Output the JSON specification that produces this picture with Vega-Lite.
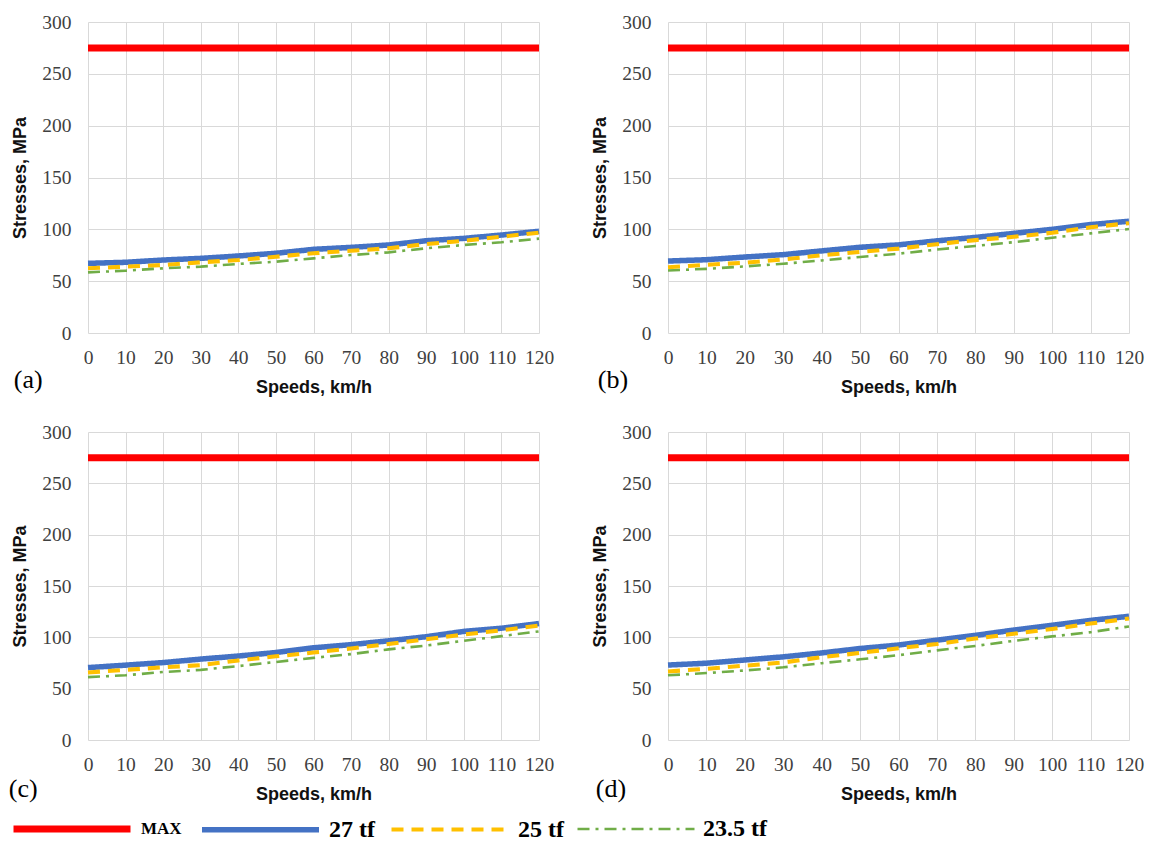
{
  "$schema": "https://vega.github.io/schema/vega-lite/v6.json",
  "background": "white",
  "padding": {"left": 8, "top": 12, "right": 5, "bottom": 5},
  "datasets": {
    "d": [
      {"panel":"a","series":"MAX","speed":0,"stress":275},{"panel":"a","series":"MAX","speed":120,"stress":275},
      {"panel":"a","series":"27 tf","speed":0,"stress":67.2},{"panel":"a","series":"27 tf","speed":10,"stress":68.2},{"panel":"a","series":"27 tf","speed":20,"stress":70.4},{"panel":"a","series":"27 tf","speed":30,"stress":72},{"panel":"a","series":"27 tf","speed":40,"stress":74.3},{"panel":"a","series":"27 tf","speed":50,"stress":76.9},{"panel":"a","series":"27 tf","speed":60,"stress":80.7},{"panel":"a","series":"27 tf","speed":70,"stress":82.6},{"panel":"a","series":"27 tf","speed":80,"stress":84.9},{"panel":"a","series":"27 tf","speed":90,"stress":89},{"panel":"a","series":"27 tf","speed":100,"stress":91.3},{"panel":"a","series":"27 tf","speed":110,"stress":94.5},{"panel":"a","series":"27 tf","speed":120,"stress":98.1},
      {"panel":"a","series":"25 tf","speed":0,"stress":62.4},{"panel":"a","series":"25 tf","speed":10,"stress":64},{"panel":"a","series":"25 tf","speed":20,"stress":65.6},{"panel":"a","series":"25 tf","speed":30,"stress":68.2},{"panel":"a","series":"25 tf","speed":40,"stress":70.4},{"panel":"a","series":"25 tf","speed":50,"stress":73.6},{"panel":"a","series":"25 tf","speed":60,"stress":76.9},{"panel":"a","series":"25 tf","speed":70,"stress":79.4},{"panel":"a","series":"25 tf","speed":80,"stress":81.7},{"panel":"a","series":"25 tf","speed":90,"stress":85.8},{"panel":"a","series":"25 tf","speed":100,"stress":89},{"panel":"a","series":"25 tf","speed":110,"stress":92.9},{"panel":"a","series":"25 tf","speed":120,"stress":96.8},
      {"panel":"a","series":"23.5 tf","speed":0,"stress":58.5},{"panel":"a","series":"23.5 tf","speed":10,"stress":60.1},{"panel":"a","series":"23.5 tf","speed":20,"stress":62.4},{"panel":"a","series":"23.5 tf","speed":30,"stress":64},{"panel":"a","series":"23.5 tf","speed":40,"stress":66.6},{"panel":"a","series":"23.5 tf","speed":50,"stress":68.8},{"panel":"a","series":"23.5 tf","speed":60,"stress":72},{"panel":"a","series":"23.5 tf","speed":70,"stress":75.2},{"panel":"a","series":"23.5 tf","speed":80,"stress":77.8},{"panel":"a","series":"23.5 tf","speed":90,"stress":81.7},{"panel":"a","series":"23.5 tf","speed":100,"stress":84.9},{"panel":"a","series":"23.5 tf","speed":110,"stress":87.5},{"panel":"a","series":"23.5 tf","speed":120,"stress":91},

      {"panel":"b","series":"MAX","speed":0,"stress":275},{"panel":"b","series":"MAX","speed":120,"stress":275},
      {"panel":"b","series":"27 tf","speed":0,"stress":69.4},{"panel":"b","series":"27 tf","speed":10,"stress":70.7},{"panel":"b","series":"27 tf","speed":20,"stress":73.3},{"panel":"b","series":"27 tf","speed":30,"stress":75.6},{"panel":"b","series":"27 tf","speed":40,"stress":79.2},{"panel":"b","series":"27 tf","speed":50,"stress":82.7},{"panel":"b","series":"27 tf","speed":60,"stress":85},{"panel":"b","series":"27 tf","speed":70,"stress":88.9},{"panel":"b","series":"27 tf","speed":80,"stress":92.2},{"panel":"b","series":"27 tf","speed":90,"stress":96.1},{"panel":"b","series":"27 tf","speed":100,"stress":100},{"panel":"b","series":"27 tf","speed":110,"stress":104.6},{"panel":"b","series":"27 tf","speed":120,"stress":107.8},
      {"panel":"b","series":"25 tf","speed":0,"stress":63.5},{"panel":"b","series":"25 tf","speed":10,"stress":65.8},{"panel":"b","series":"25 tf","speed":20,"stress":67.8},{"panel":"b","series":"25 tf","speed":30,"stress":71},{"panel":"b","series":"25 tf","speed":40,"stress":74.9},{"panel":"b","series":"25 tf","speed":50,"stress":78.2},{"panel":"b","series":"25 tf","speed":60,"stress":81.4},{"panel":"b","series":"25 tf","speed":70,"stress":85.7},{"panel":"b","series":"25 tf","speed":80,"stress":89.6},{"panel":"b","series":"25 tf","speed":90,"stress":92.8},{"panel":"b","series":"25 tf","speed":100,"stress":96.7},{"panel":"b","series":"25 tf","speed":110,"stress":102},{"panel":"b","series":"25 tf","speed":120,"stress":105.9},
      {"panel":"b","series":"23.5 tf","speed":0,"stress":60.3},{"panel":"b","series":"23.5 tf","speed":10,"stress":61.9},{"panel":"b","series":"23.5 tf","speed":20,"stress":64.2},{"panel":"b","series":"23.5 tf","speed":30,"stress":66.8},{"panel":"b","series":"23.5 tf","speed":40,"stress":70},{"panel":"b","series":"23.5 tf","speed":50,"stress":73.3},{"panel":"b","series":"23.5 tf","speed":60,"stress":76.5},{"panel":"b","series":"23.5 tf","speed":70,"stress":80.5},{"panel":"b","series":"23.5 tf","speed":80,"stress":84},{"panel":"b","series":"23.5 tf","speed":90,"stress":87.6},{"panel":"b","series":"23.5 tf","speed":100,"stress":91.9},{"panel":"b","series":"23.5 tf","speed":110,"stress":96.1},{"panel":"b","series":"23.5 tf","speed":120,"stress":100.3},

      {"panel":"c","series":"MAX","speed":0,"stress":275},{"panel":"c","series":"MAX","speed":120,"stress":275},
      {"panel":"c","series":"27 tf","speed":0,"stress":70.5},{"panel":"c","series":"27 tf","speed":10,"stress":72.9},{"panel":"c","series":"27 tf","speed":20,"stress":75.4},{"panel":"c","series":"27 tf","speed":30,"stress":78.8},{"panel":"c","series":"27 tf","speed":40,"stress":81.8},{"panel":"c","series":"27 tf","speed":50,"stress":85.2},{"panel":"c","series":"27 tf","speed":60,"stress":89.8},{"panel":"c","series":"27 tf","speed":70,"stress":92.9},{"panel":"c","series":"27 tf","speed":80,"stress":96.6},{"panel":"c","series":"27 tf","speed":90,"stress":100.6},{"panel":"c","series":"27 tf","speed":100,"stress":105.8},{"panel":"c","series":"27 tf","speed":110,"stress":108.9},{"panel":"c","series":"27 tf","speed":120,"stress":113.5},
      {"panel":"c","series":"25 tf","speed":0,"stress":65.8},{"panel":"c","series":"25 tf","speed":10,"stress":68.3},{"panel":"c","series":"25 tf","speed":20,"stress":70.8},{"panel":"c","series":"25 tf","speed":30,"stress":72.9},{"panel":"c","series":"25 tf","speed":40,"stress":77.5},{"panel":"c","series":"25 tf","speed":50,"stress":81.5},{"panel":"c","series":"25 tf","speed":60,"stress":85.2},{"panel":"c","series":"25 tf","speed":70,"stress":89.2},{"panel":"c","series":"25 tf","speed":80,"stress":93.5},{"panel":"c","series":"25 tf","speed":90,"stress":98.2},{"panel":"c","series":"25 tf","speed":100,"stress":102.8},{"panel":"c","series":"25 tf","speed":110,"stress":106.8},{"panel":"c","series":"25 tf","speed":120,"stress":111.4},
      {"panel":"c","series":"23.5 tf","speed":0,"stress":61.2},{"panel":"c","series":"23.5 tf","speed":10,"stress":63.1},{"panel":"c","series":"23.5 tf","speed":20,"stress":66.2},{"panel":"c","series":"23.5 tf","speed":30,"stress":68.3},{"panel":"c","series":"23.5 tf","speed":40,"stress":72},{"panel":"c","series":"23.5 tf","speed":50,"stress":76},{"panel":"c","series":"23.5 tf","speed":60,"stress":80},{"panel":"c","series":"23.5 tf","speed":70,"stress":83.7},{"panel":"c","series":"23.5 tf","speed":80,"stress":88.3},{"panel":"c","series":"23.5 tf","speed":90,"stress":92},{"panel":"c","series":"23.5 tf","speed":100,"stress":96.6},{"panel":"c","series":"23.5 tf","speed":110,"stress":101.2},{"panel":"c","series":"23.5 tf","speed":120,"stress":105.8},

      {"panel":"d","series":"MAX","speed":0,"stress":275},{"panel":"d","series":"MAX","speed":120,"stress":275},
      {"panel":"d","series":"27 tf","speed":0,"stress":73},{"panel":"d","series":"27 tf","speed":10,"stress":74.8},{"panel":"d","series":"27 tf","speed":20,"stress":77.9},{"panel":"d","series":"27 tf","speed":30,"stress":81},{"panel":"d","series":"27 tf","speed":40,"stress":84.8},{"panel":"d","series":"27 tf","speed":50,"stress":89.1},{"panel":"d","series":"27 tf","speed":60,"stress":92.5},{"panel":"d","series":"27 tf","speed":70,"stress":97.2},{"panel":"d","series":"27 tf","speed":80,"stress":101.9},{"panel":"d","series":"27 tf","speed":90,"stress":107.1},{"panel":"d","series":"27 tf","speed":100,"stress":111.8},{"panel":"d","series":"27 tf","speed":110,"stress":116.5},{"panel":"d","series":"27 tf","speed":120,"stress":120.5},
      {"panel":"d","series":"25 tf","speed":0,"stress":66.8},{"panel":"d","series":"25 tf","speed":10,"stress":69.3},{"panel":"d","series":"25 tf","speed":20,"stress":72.4},{"panel":"d","series":"25 tf","speed":30,"stress":75.5},{"panel":"d","series":"25 tf","speed":40,"stress":80.7},{"panel":"d","series":"25 tf","speed":50,"stress":84.8},{"panel":"d","series":"25 tf","speed":60,"stress":89.4},{"panel":"d","series":"25 tf","speed":70,"stress":93.5},{"panel":"d","series":"25 tf","speed":80,"stress":98.8},{"panel":"d","series":"25 tf","speed":90,"stress":103.4},{"panel":"d","series":"25 tf","speed":100,"stress":108.1},{"panel":"d","series":"25 tf","speed":110,"stress":113.4},{"panel":"d","series":"25 tf","speed":120,"stress":118.3},
      {"panel":"d","series":"23.5 tf","speed":0,"stress":63},{"panel":"d","series":"23.5 tf","speed":10,"stress":65.2},{"panel":"d","series":"23.5 tf","speed":20,"stress":67.7},{"panel":"d","series":"23.5 tf","speed":30,"stress":70.8},{"panel":"d","series":"23.5 tf","speed":40,"stress":74.8},{"panel":"d","series":"23.5 tf","speed":50,"stress":78.6},{"panel":"d","series":"23.5 tf","speed":60,"stress":82.6},{"panel":"d","series":"23.5 tf","speed":70,"stress":87.3},{"panel":"d","series":"23.5 tf","speed":80,"stress":91.6},{"panel":"d","series":"23.5 tf","speed":90,"stress":96.6},{"panel":"d","series":"23.5 tf","speed":100,"stress":100.9},{"panel":"d","series":"23.5 tf","speed":110,"stress":105},{"panel":"d","series":"23.5 tf","speed":120,"stress":110.6}
    ]
  },
  "config": {
    "view": {"stroke": null},
    "axis": {
      "grid": true, "gridColor": "#d9d9d9", "gridWidth": 1,
      "domain": false, "ticks": false, "labelOverlap": false, "labelFlush": false,
      "labelFont": "Liberation Serif", "labelFontSize": 19.5, "labelColor": "#404040",
      "titleFont": "Liberation Sans", "titleFontSize": 18, "titleFontWeight": "bold", "titleColor": "#111111"
    },
    "axisX": {"labelPadding": 15, "titlePadding": 12},
    "axisY": {"labelPadding": 17, "titlePadding": 12},
    "title": {"font": "Liberation Serif", "fontSize": 26, "fontWeight": "normal", "color": "#000000", "orient": "bottom", "anchor": "start", "frame": "bounds"}
  },
  "spacing": 25,
  "vconcat": [
    {
      "spacing": 37,
      "hconcat": [
        {
          "width": 451, "height": 311,
          "data": {"name": "d"},
          "transform": [{"filter": "datum.panel == 'a'"}],
          "title": {"text": "(a)", "dx": 2, "offset": -30},
          "mark": {"type": "line", "strokeCap": "butt", "clip": false},
          "encoding": {
            "x": {"field": "speed", "type": "quantitative", "scale": {"domain": [0, 120], "nice": false}, "axis": {"values": [0,10,20,30,40,50,60,70,80,90,100,110,120], "title": "Speeds, km/h"}},
            "y": {"field": "stress", "type": "quantitative", "scale": {"domain": [0, 300], "nice": false}, "axis": {"values": [0,50,100,150,200,250,300], "title": "Stresses, MPa"}},
            "color": {"field": "series", "type": "nominal", "scale": {"domain": ["MAX","27 tf","25 tf","23.5 tf"], "range": ["#ff0000","#4472c4","#ffc000","#70ad47"]},
              "legend": {"orient": "none", "legendX": -78, "legendY": 745, "direction": "horizontal", "title": null, "symbolType": "stroke", "symbolSize": 13689, "labelFont": "Liberation Serif", "labelFontWeight": "bold", "labelFontSize": 24, "labelColor": "#000000", "labelOffset": 7, "columnPadding": 8,
                "encode": {
                  "symbols": {
                    "enter": {
                      "stroke": {"signal": "datum.value == '27 tf' ? '#1fb5ec' : datum.value == '25 tf' ? '#ffe24a' : datum.value == '23.5 tf' ? '#9cbb3a' : '#ff0000'"}
                    },
                    "update": {
                      "stroke": {"signal": "datum.value == '27 tf' ? '#1fb5ec' : datum.value == '25 tf' ? '#ffe24a' : datum.value == '23.5 tf' ? '#9cbb3a' : '#ff0000'"},
                      "strokeDash": {"signal": "datum.value == '25 tf' ? [17, 12] : datum.value == '23.5 tf' ? [14, 8, 4, 8] : [1, 0]"},
                      "strokeWidth": {"signal": "datum.value == 'MAX' ? 9 : 3.5"}
                    }
                  },
                  "labels": {"update": {"fontSize": {"signal": "datum.value == 'MAX' ? 17 : 24"}}}
                }}},
            "strokeDash": {"field": "series", "type": "nominal", "scale": {"domain": ["MAX","27 tf","25 tf","23.5 tf"], "range": [[1,0],[1,0],[12,8],[12,6,3,6]]}},
            "strokeWidth": {"field": "series", "type": "nominal", "scale": {"domain": ["MAX","27 tf","25 tf","23.5 tf"], "range": [7,2.6,3,3]}}
          }
        },
        {
          "width": 461, "height": 311,
          "data": {"name": "d"},
          "transform": [{"filter": "datum.panel == 'b'"}],
          "title": {"text": "(b)", "dx": 6, "offset": -30},
          "mark": {"type": "line", "strokeCap": "butt", "clip": false},
          "encoding": {
            "x": {"field": "speed", "type": "quantitative", "scale": {"domain": [0, 120], "nice": false}, "axis": {"values": [0,10,20,30,40,50,60,70,80,90,100,110,120], "title": "Speeds, km/h"}},
            "y": {"field": "stress", "type": "quantitative", "scale": {"domain": [0, 300], "nice": false}, "axis": {"values": [0,50,100,150,200,250,300], "title": "Stresses, MPa"}},
            "color": {"field": "series", "type": "nominal"},
            "strokeDash": {"field": "series", "type": "nominal"},
            "strokeWidth": {"field": "series", "type": "nominal"}
          }
        }
      ]
    },
    {
      "spacing": 37,
      "hconcat": [
        {
          "width": 451, "height": 308,
          "data": {"name": "d"},
          "transform": [{"filter": "datum.panel == 'c'"}],
          "title": {"text": "(c)", "dx": -3, "offset": -28},
          "mark": {"type": "line", "strokeCap": "butt", "clip": false},
          "encoding": {
            "x": {"field": "speed", "type": "quantitative", "scale": {"domain": [0, 120], "nice": false}, "axis": {"values": [0,10,20,30,40,50,60,70,80,90,100,110,120], "title": "Speeds, km/h"}},
            "y": {"field": "stress", "type": "quantitative", "scale": {"domain": [0, 300], "nice": false}, "axis": {"values": [0,50,100,150,200,250,300], "title": "Stresses, MPa"}},
            "color": {"field": "series", "type": "nominal"},
            "strokeDash": {"field": "series", "type": "nominal"},
            "strokeWidth": {"field": "series", "type": "nominal"}
          }
        },
        {
          "width": 461, "height": 308,
          "data": {"name": "d"},
          "transform": [{"filter": "datum.panel == 'd'"}],
          "title": {"text": "(d)", "dx": 4, "offset": -28},
          "mark": {"type": "line", "strokeCap": "butt", "clip": false},
          "encoding": {
            "x": {"field": "speed", "type": "quantitative", "scale": {"domain": [0, 120], "nice": false}, "axis": {"values": [0,10,20,30,40,50,60,70,80,90,100,110,120], "title": "Speeds, km/h"}},
            "y": {"field": "stress", "type": "quantitative", "scale": {"domain": [0, 300], "nice": false}, "axis": {"values": [0,50,100,150,200,250,300], "title": "Stresses, MPa"}},
            "color": {"field": "series", "type": "nominal"},
            "strokeDash": {"field": "series", "type": "nominal"},
            "strokeWidth": {"field": "series", "type": "nominal"}
          }
        }
      ]
    }
  ]
}
